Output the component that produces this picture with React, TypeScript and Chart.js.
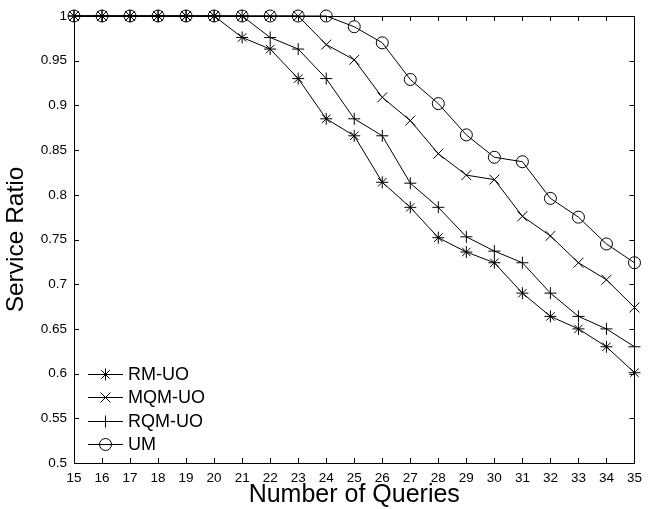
import React, { useEffect, useRef } from "react";
import { Chart, registerables } from "chart.js";

Chart.register(...registerables);

const queries = [15, 16, 17, 18, 19, 20, 21, 22, 23, 24, 25, 26, 27, 28, 29, 30, 31, 32, 33, 34, 35];
const rmUo = [1, 1, 1, 1, 1, 1, 0.976, 0.963, 0.93, 0.885, 0.866, 0.814, 0.786, 0.752, 0.736, 0.724, 0.69, 0.664, 0.65, 0.63, 0.601];
const mqmUo = [1, 1, 1, 1, 1, 1, 1, 1, 1, 0.968, 0.951, 0.909, 0.883, 0.846, 0.822, 0.817, 0.776, 0.754, 0.724, 0.705, 0.674];
const rqmUo = [1, 1, 1, 1, 1, 1, 1, 0.976, 0.963, 0.93, 0.885, 0.866, 0.813, 0.786, 0.753, 0.737, 0.724, 0.69, 0.664, 0.65, 0.63];
const um = [1, 1, 1, 1, 1, 1, 1, 1, 1, 1, 0.988, 0.97, 0.929, 0.902, 0.867, 0.842, 0.837, 0.796, 0.775, 0.745, 0.724];

const seriesNames = ["RM-UO", "MQM-UO", "RQM-UO", "UM"];
const seriesStyles = ["star", "crossRot", "cross", "circle"];
const seriesRadii = [6, 7, 6, 6];

const FONT = "'Liberation Sans', Arial, sans-serif";

function drawMarker(ctx: CanvasRenderingContext2D, style: string, r: number, x: number, y: number) {
  ctx.beginPath();
  const d = r * Math.SQRT1_2;
  if (style === "circle") {
    ctx.arc(x, y, r, 0, Math.PI * 2);
  }
  if (style === "cross" || style === "star") {
    ctx.moveTo(x - r, y);
    ctx.lineTo(x + r, y);
    ctx.moveTo(x, y - r);
    ctx.lineTo(x, y + r);
  }
  if (style === "crossRot" || style === "star") {
    ctx.moveTo(x - d, y - d);
    ctx.lineTo(x + d, y + d);
    ctx.moveTo(x - d, y + d);
    ctx.lineTo(x + d, y - d);
  }
  ctx.stroke();
}

const boxTicksPlugin = {
  id: "boxTicks",
  beforeDatasetsDraw(chart: any) {
    const { ctx, chartArea: a, scales } = chart;
    const len = 5;
    ctx.save();
    ctx.strokeStyle = "#000";
    ctx.lineWidth = 1;
    ctx.beginPath();
    ctx.rect(Math.round(a.left) + 0.5, Math.round(a.top) + 0.5, Math.round(a.right - a.left), Math.round(a.bottom - a.top));
    ctx.stroke();
    ctx.beginPath();
    scales.x.ticks.forEach((t: any) => {
      const px = Math.round(scales.x.getPixelForValue(t.value)) + 0.5;
      ctx.moveTo(px, a.bottom);
      ctx.lineTo(px, a.bottom - len);
      ctx.moveTo(px, a.top);
      ctx.lineTo(px, a.top + len);
    });
    scales.y.ticks.forEach((t: any) => {
      const py = Math.round(scales.y.getPixelForValue(t.value)) + 0.5;
      ctx.moveTo(a.left, py);
      ctx.lineTo(a.left + len, py);
      ctx.moveTo(a.right, py);
      ctx.lineTo(a.right - len, py);
    });
    ctx.stroke();
    ctx.restore();
  },
};

const innerLegendPlugin = {
  id: "innerLegend",
  afterDatasetsDraw(chart: any) {
    const { ctx, chartArea: a } = chart;
    ctx.save();
    ctx.strokeStyle = "#000";
    ctx.fillStyle = "#000";
    ctx.lineWidth = 1;
    ctx.font = `18px ${FONT}`;
    ctx.textBaseline = "middle";
    ctx.textAlign = "left";
    chart.data.datasets.forEach((ds: any, i: number) => {
      const y = Math.round(a.bottom - 89 + i * 23.3) + 0.5;
      const x0 = a.left + 14;
      const x1 = a.left + 49;
      ctx.beginPath();
      ctx.moveTo(x0, y);
      ctx.lineTo(x1, y);
      ctx.stroke();
      drawMarker(ctx, ds.pointStyle, ds.pointRadius, (x0 + x1) / 2, y);
      ctx.fillText(ds.label, x1 + 5, y + 1);
    });
    ctx.restore();
  },
};

export default function App() {
  const ref = useRef<HTMLCanvasElement>(null);
  useEffect(() => {
    document.body.style.margin = "0";
    const all = [rmUo, mqmUo, rqmUo, um];
    const chart = new Chart(ref.current!, {
      type: "line",
      data: {
        datasets: all.map((vals, i) => ({
          label: seriesNames[i],
          data: queries.map((q, j) => ({ x: q, y: vals[j] })),
          borderColor: "#000",
          backgroundColor: "rgba(0,0,0,0)",
          borderWidth: 1,
          pointStyle: seriesStyles[i] as any,
          pointRadius: seriesRadii[i],
          pointBorderColor: "#000",
          pointBackgroundColor: "rgba(0,0,0,0)",
          pointBorderWidth: 1,
          tension: 0,
          clip: false as any,
        })),
      },
      options: {
        animation: false,
        responsive: false,
        devicePixelRatio: 1,
        layout: { padding: { left: 0, right: 9, top: 16, bottom: 0 } },
        plugins: { legend: { display: false }, tooltip: { enabled: false } },
        scales: {
          x: {
            type: "linear",
            min: 15,
            max: 35,
            grid: { display: false, drawTicks: false },
            border: { display: false },
            ticks: { stepSize: 1, padding: 7, color: "#000", font: { family: FONT, size: 13.5 }, maxRotation: 0, autoSkip: false },
            title: { display: true, text: "Number of Queries", color: "#000", font: { family: FONT, size: 25, lineHeight: 1 }, padding: { top: 0, bottom: 1 } },
            afterFit: (s: any) => { s.height = 46; },
          },
          y: {
            min: 0.5,
            max: 1,
            grid: { display: false, drawTicks: false },
            border: { display: false },
            ticks: {
              stepSize: 0.05,
              padding: 7,
              color: "#000",
              font: { family: FONT, size: 13.5 },
              callback: (v: any) => String(Number(Number(v).toFixed(2))),
            },
            title: { display: true, text: "Service Ratio", color: "#000", font: { family: FONT, size: 24.5, lineHeight: 1 }, padding: { top: 4, bottom: 0 } },
            afterFit: (s: any) => { s.width = 74; },
          },
        },
      },
      plugins: [boxTicksPlugin, innerLegendPlugin],
    });
    return () => chart.destroy();
  }, []);
  return (
    <div style={{ width: 649, height: 509 }}>
      <canvas ref={ref} width={649} height={509} style={{ display: "block" }} />
    </div>
  );
}
